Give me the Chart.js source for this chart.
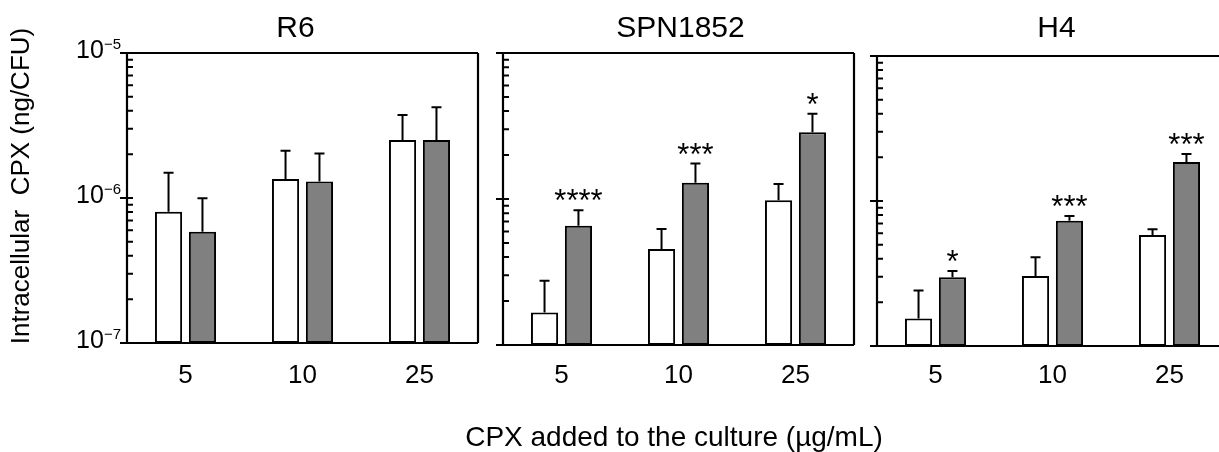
<!DOCTYPE html>
<html lang="en">
<head>
<meta charset="UTF-8">
<title>Intracellular CPX</title>
<script src="https://cdn.jsdelivr.net/npm/chart.js"></script>
<style>
  html, body { margin: 0; padding: 0; background: #fff; overflow: hidden; }
  #wrap { position: relative; width: 1219px; height: 452px; overflow: hidden; }
  canvas { position: absolute; top: 0; }
  #xtitle { position: absolute; left: 0; top: 437px; width: 1348px; text-align: center;
            font: 28px "Liberation Sans", Arial, sans-serif; color: #000; line-height: 0; }
</style>
</head>
<body>
<div id="wrap">
  <canvas id="c1" width="490" height="452" style="left:0px"></canvas>
  <canvas id="c2" width="375" height="452" style="left:490px"></canvas>
  <canvas id="c3" width="400" height="452" style="left:865px"></canvas>
  <div id="xtitle">CPX added to the culture (µg/mL)</div>
</div>
<script>
// data (ng/CFU)
const doses = ['5', '10', '25'];
const strains = ['R6', 'SPN1852', 'H4'];

const r6Open = [8.05e-7, 1.35e-6, 2.51e-6];
const r6OpenSd = [6.9e-7, 7.7e-7, 1.23e-6];
const r6Grey = [5.86e-7, 1.30e-6, 2.51e-6];
const r6GreySd = [4.1e-7, 7.3e-7, 1.71e-6];

const spnOpen = [1.67e-7, 4.55e-7, 9.79e-7];
const spnOpenSd = [1.08e-7, 1.68e-7, 2.9e-7];
const spnGrey = [6.56e-7, 1.29e-6, 2.86e-6];
const spnGreySd = [1.8e-7, 4.6e-7, 9.8e-7];

const h4Open = [1.55e-7, 3.04e-7, 5.83e-7];
const h4OpenSd = [0.86e-7, 1.05e-7, 0.55e-7];
const h4Grey = [2.98e-7, 7.31e-7, 1.86e-6];
const h4GreySd = [0.31e-7, 0.57e-7, 0.25e-6];

const r6Stars = ['', '', ''];
const spnStars = ['****', '***', '*'];
const h4Stars = ['*', '***', '***'];

const decades = [-7, -6, -5];
const minorSteps = [2, 3, 4, 5, 6, 7, 8, 9];

const FONT = '"Liberation Sans", Arial, sans-serif';

// frame, log ticks, labels, error bars and asterisks
const decor = {
  id: 'decor',
  afterDatasetsDraw(chart, args, o) {
    const ctx = chart.ctx, a = chart.chartArea;
    const x = chart.scales.x, y = chart.scales.y;
    ctx.save();
    ctx.strokeStyle = '#000';
    ctx.fillStyle = '#000';
    ctx.lineWidth = 2;

    // error bars (upper only)
    chart.data.datasets.forEach((ds, di) => {
      chart.getDatasetMeta(di).data.forEach((bar, i) => {
        const top = y.getPixelForValue(ds.data[i] + ds.sd[i]);
        ctx.beginPath();
        ctx.moveTo(bar.x, bar.y);
        ctx.lineTo(bar.x, top);
        ctx.moveTo(bar.x - 5, top);
        ctx.lineTo(bar.x + 5, top);
        ctx.stroke();
      });
    });

    // asterisks over the grey bars
    const g = chart.data.datasets[1];
    ctx.font = '31px ' + FONT;
    ctx.textAlign = 'center';
    ctx.textBaseline = 'alphabetic';
    chart.getDatasetMeta(1).data.forEach((bar, i) => {
      if (!o.stars[i]) return;
      const top = y.getPixelForValue(g.data[i] + g.sd[i]);
      ctx.fillText(o.stars[i], bar.x, top + 1);
    });

    // frame
    ctx.lineWidth = 2.2;
    ctx.beginPath();
    ctx.moveTo(a.left - 6, a.top); ctx.lineTo(a.right, a.top);
    ctx.moveTo(a.left - 6, a.bottom); ctx.lineTo(a.right, a.bottom);
    ctx.moveTo(a.left, a.top); ctx.lineTo(a.left, a.bottom);
    if (o.rightBorder) { ctx.moveTo(a.right, a.top); ctx.lineTo(a.right, a.bottom); }
    ctx.stroke();

    // log ticks
    ctx.lineWidth = 2;
    ctx.beginPath();
    decades.forEach(e => {
      const py = y.getPixelForValue(Math.pow(10, e));
      ctx.moveTo(a.left - 7, py); ctx.lineTo(a.left + 6, py);
      if (e < -5) {
        minorSteps.forEach(k => {
          const my = y.getPixelForValue(k * Math.pow(10, e));
          ctx.moveTo(a.left, my); ctx.lineTo(a.left + 6, my);
        });
      }
    });
    ctx.stroke();

    // y tick labels (first panel only)
    if (o.yLabels) {
      decades.forEach(e => {
        const py = y.getPixelForValue(Math.pow(10, e));
        ctx.textAlign = 'right';
        ctx.textBaseline = 'middle';
        ctx.font = '15px ' + FONT;
        const exp = '\u2212' + Math.abs(e);
        const ew = ctx.measureText(exp).width;
        ctx.fillText(exp, a.left - 6, py - 8);
        ctx.font = '25px ' + FONT;
        ctx.fillText('10', a.left - 6 - ew, py - 2);
      });
      ctx.save();
      ctx.translate(22, 186);
      ctx.rotate(-Math.PI / 2);
      ctx.font = '26px ' + FONT;
      ctx.textAlign = 'center';
      ctx.textBaseline = 'middle';
      ctx.fillText('Intracellular  CPX (ng/CFU)', 0, 0);
      ctx.restore();
    }

    // dose labels
    ctx.font = '26px ' + FONT;
    ctx.textAlign = 'center';
    ctx.textBaseline = 'middle';
    chart.data.labels.forEach((lab, i) => {
      ctx.fillText(lab, x.getPixelForValue(i), 376);
    });

    // panel title
    ctx.font = '30px ' + FONT;
    ctx.fillText(o.title, (a.left + a.right) / 2 + o.titleShift, 29);
    ctx.restore();
  }
};

function makePanel(id, title, open, openSd, grey, greySd, stars, pad, opts) {
  return new Chart(document.getElementById(id), {
    type: 'bar',
    data: {
      labels: doses,
      datasets: [
        { label: 'open', data: open, sd: openSd, backgroundColor: '#ffffff',
          borderColor: '#000', borderWidth: 2, borderSkipped: false },
        { label: 'grey', data: grey, sd: greySd, backgroundColor: '#808080',
          borderColor: '#000', borderWidth: 2, borderSkipped: false }
      ]
    },
    options: {
      responsive: false,
      animation: false,
      layout: { padding: pad },
      datasets: { bar: { categoryPercentage: 0.58, barPercentage: 0.8 } },
      plugins: {
        legend: { display: false },
        tooltip: { enabled: false },
        decor: Object.assign({ title: title, stars: stars }, opts)
      },
      scales: {
        x: { display: false, offset: true },
        y: { display: false, type: 'logarithmic', min: 1e-7, max: 1e-5 }
      }
    },
    plugins: [decor]
  });
}

makePanel('c1', strains[0], r6Open, r6OpenSd, r6Grey, r6GreySd, r6Stars,
  { left: 127, right: 12, top: 53, bottom: 109 }, { rightBorder: true, yLabels: true, titleShift: -7 });
makePanel('c2', strains[1], spnOpen, spnOpenSd, spnGrey, spnGreySd, spnStars,
  { left: 13, right: 11, top: 53, bottom: 107 }, { rightBorder: true, yLabels: false, titleShift: 2 });
makePanel('c3', strains[2], h4Open, h4OpenSd, h4Grey, h4GreySd, h4Stars,
  { left: 12, right: 37, top: 56, bottom: 106 }, { rightBorder: false, yLabels: false, titleShift: 4 });
</script>
</body>
</html>
